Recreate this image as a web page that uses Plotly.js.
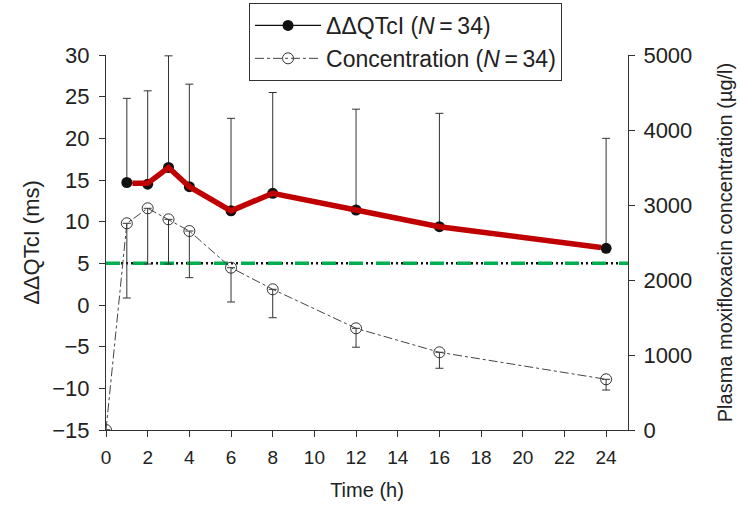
<!DOCTYPE html>
<html>
<head>
<meta charset="utf-8">
<script src="https://cdn.plot.ly/plotly-3.0.1.min.js"></script>
<style>html,body{margin:0;padding:0;background:#fff;}#chart{width:740px;height:505px;}</style>
</head>
<body>
<div id="chart"></div>
<script>
// Time points (h)
const qtcTime = [1, 2, 3, 4, 6, 8, 12, 16, 24];
const qtcMean = [14.7, 14.5, 16.5, 14.2, 11.3, 13.4, 11.4, 9.4, 6.8];
const qtcSdUp = [10.1, 11.2, 13.4, 12.3, 11.1, 12.1, 12.1, 13.6, 13.2];

// Red highlight line (drawn over the mean curve)
const redTime = [1.27, 2, 3, 4, 6, 8, 12, 16, 23.75];
const redVal = [14.6, 14.6, 16.5, 14.2, 11.3, 13.4, 11.4, 9.4, 6.9];

const concTime = [0, 1, 2, 3, 4, 6, 8, 12, 16, 24];
const concMean = [0, 2756, 2956, 2809, 2653, 2164, 1876, 1356, 1036, 676];
const concSdDown = [0, 996, 743, 596, 622, 457, 379, 252, 213, 143];

const thresholdX = [0, 25.05];
const thresholdY = [5, 5];

const xTicks = [0, 2, 4, 6, 8, 10, 12, 14, 16, 18, 20, 22, 24];
const yTicks = [-15, -10, -5, 0, 5, 10, 15, 20, 25, 30];
const y2Ticks = [0, 1000, 2000, 3000, 4000, 5000];

const zeros = (a) => a.map(() => 0);
const txt = '#222';
const font = 'Liberation Sans, Arial, sans-serif';

const traces = [
  {
    x: concTime, y: concMean, yaxis: 'y2', type: 'scatter', mode: 'lines+markers',
    name: 'Concentration (<i>N</i>\u2009=\u200934)',
    line: {color: '#444', width: 1, dash: 'dashdot'},
    marker: {symbol: 'circle-open', size: 11, color: '#333', line: {width: 1, color: '#333'}},
    error_y: {type: 'data', symmetric: false, array: zeros(concSdDown), arrayminus: concSdDown,
              color: '#333', thickness: 1, width: 4},
    legendrank: 2
  },
  {
    x: thresholdX, y: thresholdY, type: 'scatter', mode: 'lines', showlegend: false,
    line: {color: '#111', width: 2.5, dash: '2px,3px'}
  },
  {
    x: thresholdX, y: thresholdY, type: 'scatter', mode: 'lines', showlegend: false,
    line: {color: '#00b050', width: 3.5, dash: '14px,13px'}
  },
  {
    x: qtcTime, y: qtcMean, type: 'scatter', mode: 'lines+markers',
    name: 'ΔΔQTcI (<i>N</i>\u2009=\u200934)',
    line: {color: '#111', width: 1.2},
    marker: {symbol: 'circle', size: 11, color: '#111'},
    error_y: {type: 'data', symmetric: false, array: qtcSdUp, arrayminus: zeros(qtcSdUp),
              color: '#333', thickness: 1, width: 4},
    legendrank: 1
  },
  {
    x: redTime, y: redVal, type: 'scatter', mode: 'lines', showlegend: false,
    line: {color: '#c00000', width: 5.5}
  }
];

const axisCommon = {
  showgrid: false, zeroline: false, showline: true, linecolor: '#333', linewidth: 1,
  ticks: 'outside', ticklen: 6, tickcolor: '#333', tickwidth: 1,
  tickfont: {family: font, size: 22, color: txt}
};

const layout = {
  width: 740, height: 505,
  margin: {l: 106, r: 112, t: 55, b: 75, autoexpand: false},
  paper_bgcolor: '#fff', plot_bgcolor: '#fff',
  font: {family: font, color: txt},
  showlegend: true,
  legend: {
    x: 0.274, y: 1.1387, xanchor: 'left', yanchor: 'top',
    bgcolor: '#fff', bordercolor: '#333', borderwidth: 1,
    font: {family: font, size: 23, color: txt},
    itemwidth: 66, tracegroupgap: 0
  },
  xaxis: Object.assign({}, axisCommon, {
    range: [0, 25.05], tickvals: xTicks, ticktext: xTicks.map(String),
    tickfont: {family: font, size: 19, color: txt}, ticklabelstandoff: 4,
    title: {text: 'Time (h)', font: {family: font, size: 20, color: txt}, standoff: 16}
  }),
  yaxis: Object.assign({}, axisCommon, {
    range: [-15, 30], tickvals: yTicks, ticktext: yTicks.map(v => v < 0 ? '\u2212' + Math.abs(v) : String(v)),
    ticklabelstandoff: 5,
    title: {text: 'ΔΔQTcI (ms)', font: {family: font, size: 22, color: txt}, standoff: 6}
  }),
  yaxis2: Object.assign({}, axisCommon, {
    overlaying: 'y', side: 'right', range: [0, 5000],
    tickvals: y2Ticks, ticktext: y2Ticks.map(String), ticklabelstandoff: 4,
    title: {text: 'Plasma moxifloxacin concentration (µg/l)', font: {family: font, size: 20, color: txt}, standoff: 26}
  })
};

Plotly.newPlot('chart', traces, layout, {staticPlot: true, displayModeBar: false});
</script>
</body>
</html>
